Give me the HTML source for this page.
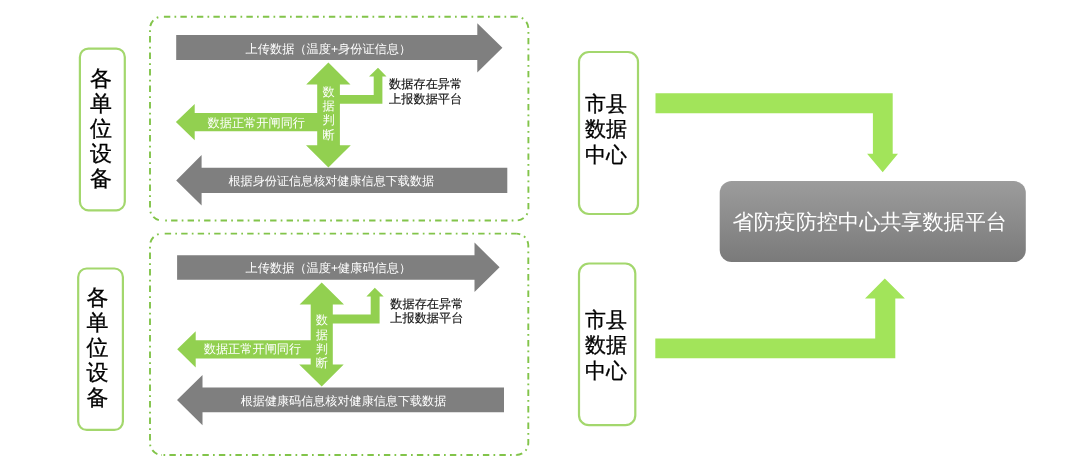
<!DOCTYPE html>
<html><head><meta charset="utf-8">
<style>
html,body{margin:0;padding:0;background:#fff;width:1080px;height:469px;overflow:hidden}
svg{display:block;will-change:transform;font-family:"Liberation Sans",sans-serif;text-rendering:geometricPrecision}
.w{fill:#fff;font-size:12.2px}
.k{fill:#111;font-size:12.2px;stroke:#111;stroke-width:0.15}
.big text{fill:#000;font-size:21px;stroke:#000;stroke-width:0.3}
.lab text{fill:#000;font-size:22px;stroke:#000;stroke-width:0.3}
</style></head><body>
<svg width="1080" height="469" viewBox="0 0 1080 469">
<defs>
<linearGradient id="pg" x1="0" y1="0" x2="0" y2="1">
<stop offset="0" stop-color="#9c9c9c"/><stop offset="1" stop-color="#7a7a7a"/>
</linearGradient>
</defs>
<!-- dashed containers -->
<path d="M162,16.7 H516.4" fill="none" stroke="#82c44a" stroke-width="1.9" stroke-dasharray="6.4 4.2 1.7 4.2" stroke-dashoffset="14.6"/>
<path d="M516.4,16.7 A12,12 0 0 1 528.4,28.7 V208.5 A12,12 0 0 1 516.4,220.5" fill="none" stroke="#82c44a" stroke-width="1.9" stroke-dasharray="6.4 4.2 1.7 4.2" stroke-dashoffset="5.05"/>
<path d="M516.4,220.5 H162" fill="none" stroke="#82c44a" stroke-width="1.9" stroke-dasharray="6.4 4.2 1.7 4.2" stroke-dashoffset="7.6"/>
<path d="M162,16.7 A12,12 0 0 0 150,28.7 V208.5 A12,12 0 0 0 162,220.5" fill="none" stroke="#82c44a" stroke-width="1.9" stroke-dasharray="6.4 4.2 1.7 4.2" stroke-dashoffset="6.85"/>
<path d="M162,233.6 H516.3" fill="none" stroke="#82c44a" stroke-width="1.9" stroke-dasharray="6.4 4.2 1.7 4.2" stroke-dashoffset="13.8"/>
<path d="M516.3,233.6 A12,12 0 0 1 528.3,245.6 V443 A12,12 0 0 1 516.3,455" fill="none" stroke="#82c44a" stroke-width="1.9" stroke-dasharray="6.4 4.2 1.7 4.2" stroke-dashoffset="2.35"/>
<path d="M516.3,455 H162" fill="none" stroke="#82c44a" stroke-width="1.9" stroke-dasharray="6.4 4.2 1.7 4.2" stroke-dashoffset="6.0"/>
<path d="M162,233.6 A12,12 0 0 0 150,245.6 V443 A12,12 0 0 0 162,455" fill="none" stroke="#82c44a" stroke-width="1.9" stroke-dasharray="6.4 4.2 1.7 4.2" stroke-dashoffset="7.25"/>
<!-- left boxes -->
<rect x="79.9" y="48.6" width="44.9" height="161.7" rx="8.5" fill="none" stroke="#a3d76d" stroke-width="2.2"/>
<rect x="78.2" y="268.5" width="44.7" height="161.4" rx="8.5" fill="none" stroke="#a3d76d" stroke-width="2.2"/>
<!-- mid boxes -->
<rect x="579" y="52" width="59" height="162" rx="10" fill="none" stroke="#a3d76d" stroke-width="2.2"/>
<rect x="579" y="263.5" width="56.3" height="161.7" rx="10" fill="none" stroke="#a3d76d" stroke-width="2.2"/>
<!-- gray arrows -->
<polygon fill="#7f7f7f" points="176.2,35.1 477.3,35.1 477.3,23.2 502.4,47.8 477.3,72.5 477.3,60 176.2,60"/>
<polygon fill="#7f7f7f" points="176.2,180.4 201.6,155.1 201.6,167.7 507.3,167.7 507.3,192.9 201.6,192.9 201.6,205.4"/>
<polygon fill="#7f7f7f" points="177.1,255.2 474.5,255.2 474.5,242.6 499.6,267.3 474.5,292 474.5,279.8 177.1,279.8"/>
<polygon fill="#7f7f7f" points="177,400.1 202.5,375 202.5,387.4 504,387.4 504,412.2 202.5,412.2 202.5,425.2"/>
<!-- green cross 1 -->
<polygon fill="#92d050" points="328.4,62.4 350.5,84.5 339.9,84.5 339.9,94.9 373.7,94.9 373.7,76.6 369,76.6 378,67.7 386.5,76.6 382.4,76.6 382.4,103.7 339.9,103.7 339.9,145.3 350.8,145.3 328.4,167.5 306,145.3 317.2,145.3 317.2,131.2 194.7,131.2 194.7,140.2 175.9,122 194.7,104.1 194.7,113 317.2,113 317.2,84.5 306.2,84.5"/>
<!-- green cross 2 -->
<polygon fill="#92d050" points="321.7,282.4 344,304.5 332.8,304.5 332.8,314.5 370.7,314.5 370.7,296.4 366.4,296.4 374.8,287.7 383.7,296.4 379.6,296.4 379.6,323.5 332.8,323.5 332.8,364.5 343.7,364.5 321.7,386.6 299.2,364.5 310.7,364.5 310.7,358.4 195.7,358.4 195.7,367.4 177.2,349.2 195.7,331.3 195.7,340.2 310.7,340.2 310.7,304.5 299.6,304.5"/>
<!-- big green arrows -->
<polygon fill="#a2e45a" points="655.5,93.2 892.7,93.2 892.7,153.7 898,153.7 882.7,172.3 867.1,153.7 872.9,153.7 872.9,113.2 655.5,113.2"/>
<polygon fill="#a2e45a" points="655.3,358.2 895.3,358.2 895.3,298.4 904.9,298.4 884.8,278.5 865,298.4 875.2,298.4 875.2,338.4 655.3,338.4"/>
<!-- platform -->
<rect x="719.7" y="181.1" width="306.1" height="81" rx="12" fill="url(#pg)"/>
<text x="732.6" y="229.2" fill="#fff" font-size="21.1">省防疫防控中心共享数据平台</text>
<!-- texts c1 -->
<text class="w" x="245.6" y="52.5">上传数据（温度+身份证信息）</text>
<text class="w" x="207.5" y="126.6">数据正常开闸同行</text>
<text class="w" x="322.6" y="95.5">数</text>
<text class="w" x="322.6" y="109.9">据</text>
<text class="w" x="322.6" y="124.3">判</text>
<text class="w" x="322.6" y="138.7">断</text>
<text class="k" x="389.1" y="88.25">数据存在异常</text>
<text class="k" x="389.1" y="102.55">上报数据平台</text>
<text class="w" x="228.5" y="184.9" style="font-size:12.1px">根据身份证信息核对健康信息下载数据</text>
<!-- texts c2 -->
<text class="w" x="245.6" y="272.15">上传数据（温度+健康码信息）</text>
<text class="w" x="203.7" y="353.45">数据正常开闸同行</text>
<text class="w" x="315.8" y="324.2">数</text>
<text class="w" x="315.8" y="338.5">据</text>
<text class="w" x="315.8" y="352.8">判</text>
<text class="w" x="315.8" y="367.2">断</text>
<text class="k" x="390.3" y="308.1">数据存在异常</text>
<text class="k" x="390.3" y="322.15">上报数据平台</text>
<text class="w" x="240.7" y="405" style="font-size:12.1px">根据健康码信息核对健康信息下载数据</text>
<!-- big labels -->
<g class="lab">
<text x="90" y="85.5">各</text>
<text x="90" y="110.7">单</text>
<text x="90" y="135.9">位</text>
<text x="90" y="161.1">设</text>
<text x="90" y="186.3">备</text>
<text x="86.6" y="304.8">各</text>
<text x="86.6" y="329.8">单</text>
<text x="86.6" y="354.8">位</text>
<text x="86.6" y="379.8">设</text>
<text x="86.6" y="404.8">备</text>
</g>
<g class="big">
<text x="585" y="110.8">市县</text>
<text x="585" y="136.2">数据</text>
<text x="585" y="161.8">中心</text>
<text x="585" y="327">市县</text>
<text x="585" y="352.2">数据</text>
<text x="585" y="377.6">中心</text>
</g>
</svg>
</body></html>
